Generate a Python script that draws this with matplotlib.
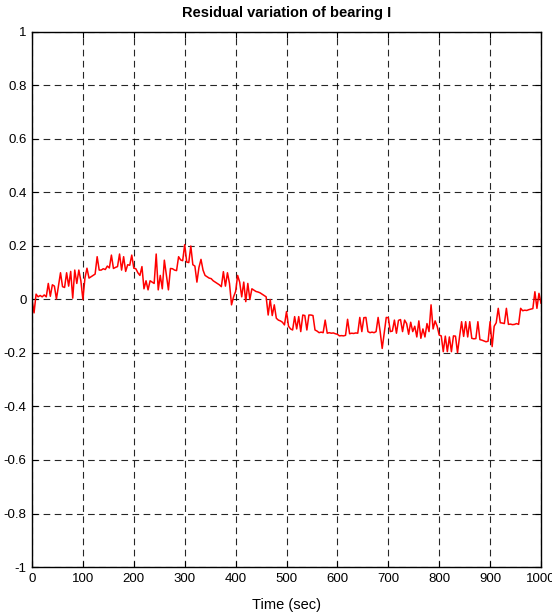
import numpy as np
import matplotlib
matplotlib.use("Agg")
import matplotlib.pyplot as plt
from matplotlib import font_manager

names = {f.name for f in font_manager.fontManager.ttflist}
base = 'Liberation Sans Narrow' if 'Liberation Sans Narrow' in names else 'Liberation Sans'
plt.rcParams['font.family'] = [base, 'DejaVu Sans']
plt.rcParams['axes.unicode_minus'] = False

# time axis (seconds), sampled every 4 s
time_sec = list(range(0, 1001, 4))

residual = [
    0.00, -0.05, 0.02, 0.01, 0.015, 0.01, 0.017, 0.01, 0.06, 0.012,
    0.055, 0.05, 0.002, 0.05, 0.10, 0.048, 0.045, 0.10, 0.05, 0.105,
    0.005, 0.11, 0.06, 0.11, 0.07, 0.0, 0.08, 0.117, 0.08, 0.085,
    0.09, 0.095, 0.16, 0.11, 0.11, 0.115, 0.112, 0.125, 0.118, 0.166,
    0.116, 0.12, 0.123, 0.17, 0.11, 0.16, 0.105, 0.13, 0.128, 0.166,
    0.117, 0.115, 0.10, 0.09, 0.123, 0.04, 0.07, 0.036, 0.07, 0.065,
    0.06, 0.17, 0.036, 0.09, 0.04, 0.147, 0.09, 0.036, 0.116, 0.115,
    0.11, 0.108, 0.16, 0.148, 0.145, 0.205, 0.14, 0.138, 0.20, 0.13,
    0.125, 0.065, 0.12, 0.15, 0.11, 0.09, 0.085, 0.08, 0.078, 0.07,
    0.065, 0.06, 0.055, 0.048, 0.104, 0.05, 0.10, 0.06, -0.02, 0.01,
    0.03, 0.09, 0.065, 0.01, 0.065, -0.008, 0.06, 0.0, 0.04, 0.035,
    0.03, 0.028, 0.025, 0.02, 0.015, 0.01, -0.058, 0.0, -0.06, -0.02,
    -0.07, -0.077, -0.08, -0.085, -0.095, -0.045, -0.10, -0.11, -0.114, -0.064,
    -0.11, -0.064, -0.12, -0.058, -0.06, -0.114, -0.058, -0.058, -0.06, -0.114,
    -0.118, -0.124, -0.122, -0.124, -0.077, -0.126, -0.124, -0.126, -0.125, -0.128,
    -0.13, -0.136, -0.135, -0.136, -0.134, -0.074, -0.128, -0.126, -0.127, -0.125,
    -0.126, -0.067, -0.12, -0.068, -0.067, -0.12, -0.124, -0.122, -0.124, -0.12,
    -0.067, -0.12, -0.183, -0.126, -0.067, -0.068, -0.12, -0.118, -0.077, -0.126,
    -0.078, -0.075, -0.12, -0.077, -0.09, -0.13, -0.085, -0.12, -0.10, -0.14,
    -0.08, -0.145, -0.11, -0.14, -0.09, -0.12, -0.02, -0.11, -0.08, -0.10,
    -0.133, -0.136, -0.195, -0.137, -0.195, -0.14, -0.195, -0.136, -0.137, -0.199,
    -0.139, -0.083, -0.138, -0.083, -0.14, -0.083, -0.145, -0.147, -0.146, -0.083,
    -0.15, -0.152, -0.155, -0.158, -0.156, -0.083, -0.176, -0.10, -0.087, -0.033,
    -0.087, -0.088, -0.09, -0.033, -0.093, -0.092, -0.094, -0.093, -0.09, -0.093,
    -0.033, -0.042, -0.04, -0.041, -0.038, -0.036, -0.034, 0.029, -0.033, 0.023,
    -0.014,
]

x_ticks = [0, 100, 200, 300, 400, 500, 600, 700, 800, 900, 1000]
y_ticks = [-1, -0.8, -0.6, -0.4, -0.2, 0, 0.2, 0.4, 0.6, 0.8, 1]
y_tick_labels = ['-1', '-0.8', '-0.6', '-0.4', '-0.2', '0', '0.2', '0.4', '0.6', '0.8', '1']

fig = plt.figure(figsize=(5.52, 6.16), dpi=100)
ax = fig.add_axes([32/552, 1 - 567/616, (541 - 32)/552, (567 - 32)/616])

ax.plot(time_sec, residual, color='#ff0000', lw=1.1)

ax.set_xlim(0, 1000)
ax.set_ylim(-1, 1)
ax.set_xticks(x_ticks)
ax.set_xticklabels([str(v) for v in x_ticks])
ax.set_yticks(y_ticks)
ax.set_yticklabels(y_tick_labels)
ax.tick_params(direction='in', length=4, width=0.8, labelsize=9.5,
               top=True, right=True, pad=4, colors='black')
ax.grid(True, color='black', linestyle=(0, (6, 4)), linewidth=0.8, alpha=0.85)
for s in ax.spines.values():
    s.set_linewidth(1.0)
    s.set_color('black')

ax.set_title('Residual variation of bearing I', fontsize=10.5, fontweight='bold', pad=11)
ax.set_xlabel('Time (sec)', fontsize=10.5, labelpad=10)

fig.savefig('out.png', dpi=100)
